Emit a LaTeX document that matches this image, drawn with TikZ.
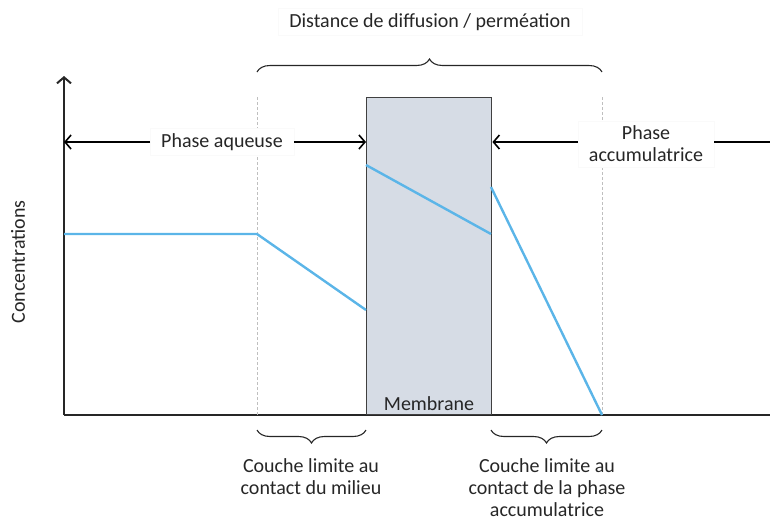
\documentclass[tikz,border=0pt]{standalone}
\usepackage{fontspec}
\setmainfont{Carlito}
\usetikzlibrary{arrows.meta,decorations.pathreplacing,calc}
\definecolor{inkK}{HTML}{262626}
\definecolor{cBlue}{HTML}{5BB5E8}
\definecolor{lMemb}{HTML}{D6DCE5}
\definecolor{cEdge}{HTML}{404040}
\definecolor{cDash}{HTML}{BFBFBF}

\tikzset{
  axisline/.style={draw=inkK, line width=2pt},
  span/.style={draw=black, line width=1.6pt, -{Straight Barb[length=6pt,width=14pt]}},
  conc/.style={draw=cBlue, line width=2.4pt},
  limit/.style={draw=cDash, densely dashed, line width=1pt},
  bracket/.style={draw=inkK, line width=1.1pt, decorate,
                  decoration={brace, amplitude=13pt}},
  lbl/.style={fill=white, draw=black!2, font=\fontsize{20}{22}\selectfont,
              text=inkK, align=center, inner xsep=11pt, inner ysep=5pt},
  txt/.style={font=\fontsize{20}{22}\selectfont, text=inkK, align=center},
}

\begin{document}
\begin{tikzpicture}[x=1pt,y=-1pt]
  \useasboundingbox (0,0) rectangle (770,517);

  % axes
  \coordinate (O) at (64,415);
  \coordinate (ytop) at (64,76);
  \coordinate (xend) at (772,415);
  \draw[axisline] (O) -- (xend);
  \draw[axisline, -{Straight Barb[length=6pt,width=14pt]}] (O) -- (ytop);
  \node[txt, rotate=90] (conc) at (18,262) {Concentrations};

  % boundary layers
  \coordinate (lim1top) at (257,97);
  \coordinate (lim1) at (257,415);
  \coordinate (lim2top) at (602,97);
  \coordinate (lim2) at (602,415);
  \draw[limit] (lim1top) -- (lim1);
  \draw[limit] (lim2top) -- (lim2);

  % membrane
  \node[draw=cEdge, fill=lMemb, line width=1.4pt, minimum width=125pt,
        minimum height=317pt, anchor=south west] (memb) at (366,415) {};
  \node[txt, anchor=base] (membtxt) at (429,410) {Membrane};

  % concentration profile
  \coordinate (c1) at (64,234);
  \coordinate (c2) at (257,234);
  \coordinate (c3) at (366,310);
  \coordinate (c4) at (366,165);
  \coordinate (c5) at (491,234);
  \coordinate (c6) at (491,187);
  \coordinate (c7) at (602,415);
  \draw[conc] (c1) -- (c2) -- (c3);
  \draw[conc] (c4) -- (c5);
  \draw[conc] (c6) -- (c7);

  % phases
  \node[lbl] (aq) at (222,142) {Phase aqueuse};
  \draw[span] (aq.west) -- (aq -| O);
  \draw[span] (aq.east) -- (aq -| memb.west);
  \node[lbl] (acc) at (646,144) {Phase\\accumulatrice};
  \coordinate (rend) at (772,142);
  \draw[span] (acc.west |- rend) -- (rend -| memb.east);
  \draw[span, -] (acc.east |- rend) -- (rend);

  % braces
  \draw[bracket] (257,72) -- (602,72);
  \node[lbl] (dist) at (430,22) {Distance de diffusion / perméation};
  \draw[bracket] (366,430) -- (257,430);
  \node[txt, anchor=north] (cl1) at (311,455) {Couche limite au\\contact du milieu};
  \draw[bracket] (602,430) -- (491,430);
  \node[txt, anchor=north] (cl2) at (547,455) {Couche limite au\\contact de la phase\\accumulatrice};
\end{tikzpicture}
\end{document}
